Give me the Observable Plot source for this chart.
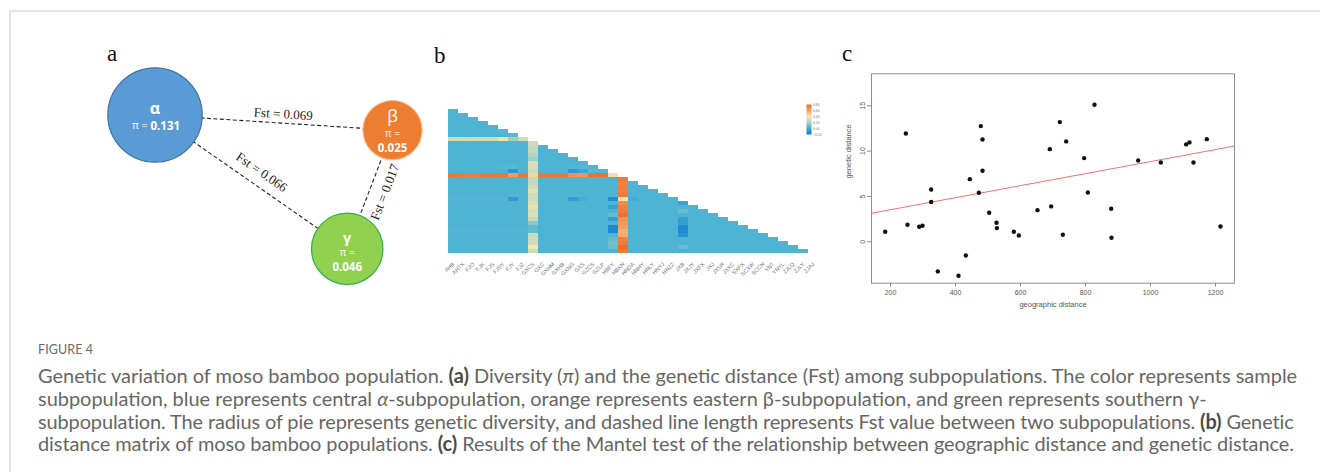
<!DOCTYPE html>
<html>
<head>
<meta charset="utf-8">
<script src="https://cdn.jsdelivr.net/npm/d3@7"></script>
<script src="https://cdn.jsdelivr.net/npm/@observablehq/plot@0.6"></script>
<style>
html,body{margin:0;padding:0;background:#fff;}
#fig{position:relative;width:1320px;height:472px;overflow:hidden;background:#fff;}
.rule-top{position:absolute;left:9px;top:10px;width:1311px;height:2px;background:#e3e3e3;}
.rule-left{position:absolute;left:9px;top:10px;width:2px;height:462px;background:#e3e3e3;}
.panel{position:absolute;}
.panel svg{display:block;overflow:visible;}
.letter{position:absolute;font-family:"Liberation Serif","Times New Roman",serif;font-size:23px;line-height:23px;color:#111;}
.cap{position:absolute;left:38px;white-space:nowrap;font-family:"Lato","Open Sans",sans-serif;color:#666;line-height:20px;}
.cap b{color:#4a4a4a;font-weight:700;}
#figlabel{font-size:12.5px;color:#6a6a6a;letter-spacing:0.1px;}
</style>
</head>
<body>
<div id="fig">
  <div class="rule-top"></div><div class="rule-left"></div>
  <div class="letter" style="left:107px;top:42px">a</div>
  <div class="letter" style="left:434px;top:44px">b</div>
  <div class="letter" style="left:842px;top:42px">c</div>
  <div class="panel" id="pa" style="left:95px;top:40px"></div>
  <div class="panel" id="pb" style="left:430px;top:90px"></div>
  <div class="panel" id="pbl" style="left:796px;top:96px"></div>
  <div class="panel" id="pc" style="left:830px;top:40px"></div>
  <div class="cap" id="figlabel" style="top:340px">FIGURE 4</div>
  <div class="cap capline" style="top:365px">Genetic variation of moso bamboo population. <b>(a)</b> Diversity (<i>π</i>) and the genetic distance (Fst) among subpopulations. The color represents sample</div>
  <div class="cap capline" style="top:388px">subpopulation, blue represents central <i>α</i>-subpopulation, orange represents eastern β-subpopulation, and green represents southern γ-</div>
  <div class="cap capline" style="top:411px">subpopulation. The radius of pie represents genetic diversity, and dashed line length represents Fst value between two subpopulations. <b>(b)</b> Genetic</div>
  <div class="cap capline" style="top:433px">distance matrix of moso bamboo populations. <b>(c)</b> Results of the Mantel test of the relationship between geographic distance and genetic distance.</div>
</div>
<script>
// ================= DATA =================
// Panel a: subpopulation diversity and pairwise Fst
const subpops = ["α", "β", "γ"];
const piValues = [0.131, 0.025, 0.046];
const fstFrom = ["α", "α", "β"];
const fstTo = ["β", "γ", "γ"];
const fstValues = [0.069, 0.066, 0.017];

// Panel b: genetic distance matrix (lower triangle, row i holds columns 0..i-1)
const populations = ["AHB","AHTX","FJO","FJK","FJS","FJSY","FJY","FJZ","GXCS","GXC","GXHM","GXHB","GXNG","GXS","GZCS","GZLP","HBFY","HBXN","HNDA","HNHY","HNLY","HNYJ","HNZZ","JXB","JXJY","JXFX","JXJ","JXSR","JXXC","SXPX","SCXW","SCCN","YNT","YNYL","ZJLQ","ZJLY","ZJAJ"];
const distRows = [
  [.03],
  [.03,.03],
  [.03,.03,.03],
  [.03,.03,.03,.03],
  [.03,.03,.03,.03,.03],
  [.03,.03,.03,.03,.03,.04],
  [.03,.03,.03,.03,.03,.03,.05],
  [.30,.29,.29,.30,.30,.38,.18,.30],
  [.03,.03,.03,.03,.03,.03,.03,.03,.30],
  [.03,.03,.03,.03,.03,.03,.03,.03,.27,.03],
  [.03,.03,.03,.03,.03,.03,.03,.03,.27,.03, .03],
  [.03,.03,.03,.03,.03,.03,.03,.03,.22,.03, .03,.03],
  [.03,.03,.03,.03,.03,.03,.03,.03,.18,.03, .03,.03,.03],
  [.03,.03,.03,.03,.03,.03,.03,.03,.33,.03, .03,.03,.03,.03],
  [.03,.03,.03,.03,.03,.04,.05,.03,.33,.03, .03,.03,.04,.04,.03],
  [.03,.03,.03,.03,.03,.03,-.08,.03,.30,.03, .03,.03,-.07,-.02,.05,.04],
  [.76,.75,.74,.76,.76,.76,.64,.76,.45,.76, .76,.76,.66,.66,.78,.78,.42],
  [.03,.03,.03,.03,.03,.03,.03,.03,.28,.03, .03,.03,.03,.03,.03,.03,.02,.74],
  [.03,.03,.03,.03,.03,.03,.03,.03,.27,.03, .03,.03,.03,.03,.03,.03,.03,.72,.03],
  [.03,.03,.03,.03,.03,.03,.03,.03,.30,.03, .03,.03,.03,.03,.03,.03,.03,.74,.03,.03],
  [.03,.03,.03,.03,.03,.03,.03,.03,.36,.03, .03,.03,.03,.03,.03,.03,.03,.72,.03,.03, .03],
  [.03,.03,.03,.03,.03,.03,.04,.03,.30,.03, .03,.03,.04,.03,.03,.03,.03,.74,.03,.03, .03,.03],
  [.04,.04,.04,.04,.04,.04,-.07,.03,.30,.03, .03,.03,-.06,.00,.03,.03,-.12,.42,.00,.03, .03,.03,.03],
  [.03,.03,.03,.03,.03,.03,.03,.03,.33,.03, .03,.03,.03,.03,.03,.03,.03,.68,.03,.03, .03,.03,.03,-.03],
  [.03,.03,.03,.03,.03,.03,.03,.03,.37,.03, .03,.03,.03,.03,.03,.03,-.05,.72,.03,.03, .03,.03,.03,.03,.03],
  [.03,.03,.03,.03,.03,.03,.03,.03,.32,.03, .03,.03,.03,.03,.03,.03,.03,.74,.03,.03, .03,.03,.03,.08,.03,.03],
  [.03,.03,.03,.03,.03,.03,.03,.03,.34,.03, .03,.03,.03,.03,.03,.03,.07,.78,.03,.03, .03,.03,.03,.03,.03,.03,.03],
  [.03,.03,.03,.03,.03,.03,.03,.03,.28,.03, .03,.03,.03,.03,.03,.03,-.05,.66,.03,.03, .03,.03,.03,-.05,.03,.03,.03,.03],
  [.03,.03,.03,.03,.03,.03,.03,.03,.14,.03, .03,.03,.03,.03,.03,.03,.03,.64,.03,.03, .03,.03,.03,-.05,.03,.03,.03,.03,.03],
  [.03,.03,.03,.03,.03,.03,.03,.03,.06,.03, .03,.03,.03,.03,.03,.03,-.14,.62,.03,.03, .03,.03,.03,-.13,.03,.03,.03,.03,.03,.03],
  [.04,.04,.04,.04,.04,.04,.04,.04,.06,.03, .03,.03,.03,.03,.03,.03,-.14,.56,.03,.03, .03,.03,.03,-.13,.03,.03,.03,.03,.03,.03, .03],
  [.03,.03,.03,.03,.03,.03,.03,.03,.28,.03, .03,.03,.03,.03,.03,.03,.03,.58,.03,.03, .03,.03,.03,-.10,.03,.03,.03,.03,.03,.03, .03,.03],
  [.03,.03,.03,.03,.03,.03,.03,.03,.30,.03, .03,.03,.03,.03,.03,.03,.07,.72,.03,.03, .03,.03,.03,.03,.03,.03,.03,.03,.03,.03, .03,.03,.03],
  [.03,.03,.03,.03,.03,.03,.03,.03,.30,.03, .03,.03,.03,.03,.03,.03,.10,.74,.03,.03, .03,.03,.03,.03,.03,.03,.03,.03,.03,.03, .03,.03,.03,.03],
  [.03,.03,.03,.03,.03,.03,.03,.03,.40,.03, .03,.03,.03,.03,.03,.03,.08,.80,.03,.03, .03,.03,.03,.08,.03,.03,.03,.03,.03,.03, .03,.03,.03,.03,.03],
  [.03,.03,.03,.03,.03,.03,.03,.03,.30,.03, .03,.03,.03,.03,.03,.03,.03,.74,.03,.03, .03,.03,.03,.03,.03,.03,.03,.03,.03,.03, .03,.03,.03,.03,.03,.03]
];
const legendTicks = [-0.2, 0, 0.2, 0.4, 0.6, 0.8];

// Panel c: Mantel test scatter
const geoDist = [183.6,247.2,252.3,288.2,298.5,325.1,325.1,345.6,409.2,431.8,444.1,471.8,477.9,483.1,483.1,503.6,526.2,527.2,579.5,594.9,652.3,690.3,694.4,721.0,730.3,740.5,795.9,807.2,827.7,879.0,880.0,962.1,1031.8,1109.7,1120.0,1132.3,1173.3,1215.4];
const genDist = [1.10,11.95,1.88,1.65,1.76,5.77,4.38,-3.27,-3.75,-1.51,6.91,5.40,12.76,11.29,7.83,3.20,2.10,1.51,1.10,0.70,3.49,10.22,3.90,13.20,0.77,11.07,9.23,5.44,15.11,3.64,0.44,8.97,8.75,10.74,10.96,8.75,11.32,1.69];
const geoTicks = [200, 400, 600, 800, 1000, 1200];
const genTicks = [0, 5, 10, 15];
const fitGeo = [141.5, 1258.5];
const fitGen = [3.15, 10.56];

// ================= LAYOUT / STYLE =================
const nodeLayout = {"α": [59.5, 74.5], "β": [297, 89.7], "γ": [251.7, 208.3]};
const nodeFill = {"α": "#5b9bd5", "β": "#ed7d31", "γ": "#92d050"};
const nodeStroke = {"α": "#41719c", "β": "#f6c8a6", "γ": "#2fae48"};
const symDy = {"α": -6, "β": -14, "γ": -10.5};
const symWeight = {"α": "bold", "β": "normal", "γ": "bold"};
const symSize = {"α": 16, "β": 17, "γ": 14.5};
const piDy = {"α": 11, "β": 4, "γ": 4};
const valDy = {"α": 11, "β": 18.5, "γ": 19};
const fstNormalShift = [9, 14, -15];
const fstAlongShift = [9, 3, 3];
const colorRamp = ["#0a78d2", "#40aed5", "#a6d4c8", "#f4e6ae", "#f3a468", "#ee6b27"];

distRows.forEach((r, k) => { if (r.length !== k + 1) throw new Error("row " + (k + 1) + " has " + r.length); });

// ================= PANEL A =================
const nodes = subpops.map((s, i) => ({name: s, pi: piValues[i], x: nodeLayout[s][0], y: nodeLayout[s][1]}));
const edges = fstValues.map((v, i) => {
  const a = nodeLayout[fstFrom[i]], b = nodeLayout[fstTo[i]];
  let ang = Math.atan2(b[1] - a[1], b[0] - a[0]) * 180 / Math.PI;
  if (ang > 90) ang -= 180;
  if (ang < -90) ang += 180;
  const t = ang * Math.PI / 180;
  const mx = (a[0] + b[0]) / 2, my = (a[1] + b[1]) / 2;
  const n = fstNormalShift[i], s = fstAlongShift[i];
  return {v, x1: a[0], y1: a[1], x2: b[0], y2: b[1], ang,
          lx: mx + n * Math.sin(t) + s * Math.cos(t), ly: my - n * Math.cos(t) + s * Math.sin(t)};
});
const nodeTextMarks = nodes.flatMap(n => {
  const base = {x: "x", y: "y", fill: "white", fontFamily: "Open Sans, sans-serif"};
  const m = [Plot.text([n], {...base, text: "name", dy: symDy[n.name], fontSize: symSize[n.name], fontWeight: symWeight[n.name]})];
  if (n.name === "α") {
    m.push(Plot.text([n], {...base, text: () => "π =", dx: -7.5, dy: piDy[n.name], textAnchor: "end", fontSize: 10.5}));
    m.push(Plot.text([n], {...base, text: d => d.pi.toFixed(3), dx: -4.5, dy: valDy[n.name], textAnchor: "start", fontSize: 11.5, fontWeight: "bold"}));
  } else {
    m.push(Plot.text([n], {...base, text: () => "π =", dy: piDy[n.name], fontSize: 10}));
    m.push(Plot.text([n], {...base, text: d => d.pi.toFixed(3), dy: valDy[n.name], fontSize: 11.5, fontWeight: "bold"}));
  }
  return m;
});
const pa = Plot.plot({
  width: 345, height: 265, margin: 0,
  style: {background: "transparent"},
  x: {domain: [0, 345], range: [0, 345], axis: null},
  y: {domain: [0, 265], range: [0, 265], axis: null},
  r: {type: "linear", domain: [0.025, 0.046, 0.131], range: [29.7, 35.7, 47.2]},
  marks: [
    Plot.link(edges, {x1: "x1", y1: "y1", x2: "x2", y2: "y2", stroke: "#222", strokeWidth: 1.1, strokeDasharray: "4,2.5"}),
    Plot.dot(nodes, {x: "x", y: "y", r: "pi", fill: d => nodeFill[d.name], stroke: d => nodeStroke[d.name], strokeWidth: 1.2}),
    Plot.text(edges, {x: "lx", y: "ly", rotate: "ang", text: d => "Fst = " + d.v.toFixed(3), fontFamily: "Liberation Serif, serif", fontSize: 13, fill: "#222"}),
    ...nodeTextMarks
  ]
});
document.getElementById("pa").appendChild(pa);

// ================= PANEL B =================
const cells = distRows.flatMap((row, k) => row.map((v, j) => ({row: populations[k + 1], col: populations[j], v})));
const colorOpts = {type: "linear", domain: legendTicks, range: colorRamp, clamp: true};
const pb = Plot.plot({
  width: 400, height: 200, marginLeft: 8.3, marginRight: 3.2, marginTop: 12.3, marginBottom: 29.7,
  style: {background: "transparent", fontFamily: "Liberation Sans, sans-serif"},
  x: {domain: populations, padding: 0, axis: null},
  y: {domain: populations.slice(1), padding: 0, axis: null},
  color: colorOpts,
  marks: [
    Plot.cell(cells, {x: "col", y: "row", fill: "v", inset: 0, shapeRendering: "crispEdges"}),
    Plot.axisX({ticks: populations, tickSize: 0, tickPadding: 2.5, tickRotate: -45, fontSize: 5.5, fill: "#777", label: null})
  ]
});
document.getElementById("pb").appendChild(pb);

const pbl = Plot.plot({
  width: 34, height: 46, marginLeft: 10, marginRight: 19, marginTop: 8, marginBottom: 8,
  style: {background: "transparent", fontFamily: "Liberation Sans, sans-serif"},
  x: {domain: [0, 1], axis: null},
  y: {domain: [legendTicks[0], legendTicks[legendTicks.length - 1]], axis: null},
  color: colorOpts,
  marks: [
    Plot.raster({x1: 0, x2: 1, y1: legendTicks[0], y2: legendTicks[legendTicks.length - 1], width: 1, height: 120, fill: (x, y) => y, imageRendering: "auto"}),
    Plot.axisY({anchor: "right", ticks: legendTicks, tickFormat: d3.format(".2f"), tickSize: 0, tickPadding: 1.5, fontSize: 3.4, fill: "#777", label: null})
  ]
});
document.getElementById("pbl").appendChild(pbl);

// ================= PANEL C =================
const pts = geoDist.map((g, i) => ({g, d: genDist[i]}));
const fit = fitGeo.map((g, i) => ({g, d: fitGen[i]}));
const pc = Plot.plot({
  width: 420, height: 290, marginLeft: 41, marginRight: 16, marginTop: 33.3, marginBottom: 47.3,
  style: {background: "transparent", fontFamily: "Liberation Sans, Arial, sans-serif"},
  x: {domain: [141.5, 1258.5], axis: null},
  y: {domain: [-4.57, 18.53], axis: null},
  marks: [
    Plot.frame({stroke: "#8e8e8e", strokeWidth: 1}),
    Plot.axisX({ticks: geoTicks, tickFormat: d3.format("d"), tickSize: 4, tickPadding: 3, fontSize: 7, stroke: "#8e8e8e", fill: "#555", label: null}),
    Plot.axisY({ticks: genTicks, tickFormat: d3.format("d"), tickSize: 4, tickPadding: 2.5, tickRotate: -90, fontSize: 7, stroke: "#8e8e8e", fill: "#555", label: null}),
    Plot.line(fit, {x: "g", y: "d", stroke: "#f07272", strokeWidth: 1}),
    Plot.dot(pts, {x: "g", y: "d", r: 2.2, fill: "#111"}),
    Plot.text(["geographic distance"], {text: d => d, frameAnchor: "bottom", dy: 24, fontSize: 7.5, fill: "#555"}),
    Plot.text(["genetic distance"], {text: d => d, frameAnchor: "left", dx: -23, rotate: -90, fontSize: 7.5, fill: "#555"})
  ]
});
document.getElementById("pc").appendChild(pc);

// ================= CAPTION FIT =================
const capLines = Array.from(document.querySelectorAll(".capline"));
capLines.forEach(el => el.style.fontSize = "16px");
const w1 = capLines[0].getBoundingClientRect().width;
const fs = 16 * 1260 / w1;
capLines.forEach(el => el.style.fontSize = fs + "px");
[[2, 1257], [3, 1257]].forEach(([i, target]) => {
  const el = capLines[i];
  const w = el.getBoundingClientRect().width;
  const n = el.textContent.length;
  el.style.letterSpacing = ((target - w) / n) + "px";
});
</script>
</body>
</html>
